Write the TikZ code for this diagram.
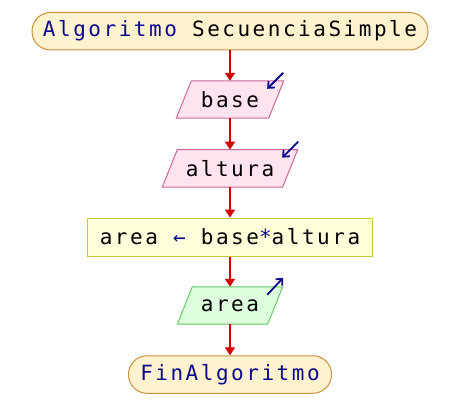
\documentclass[tikz,border=0pt]{standalone}
\usepackage{fontspec}
\newfontfamily\codefont[LetterSpace=12]{DejaVu Sans Mono}
\usetikzlibrary{arrows.meta,backgrounds,calc}
\definecolor{termfill}{RGB}{255,242,206}
\definecolor{termdraw}{RGB}{204,145,60}
\definecolor{infill}{RGB}{255,228,240}
\definecolor{indraw}{RGB}{204,102,150}
\definecolor{asgfill}{RGB}{255,255,220}
\definecolor{asgdraw}{RGB}{200,200,60}
\definecolor{outfill}{RGB}{222,255,222}
\definecolor{outdraw}{RGB}{100,200,100}
\definecolor{kw}{RGB}{10,10,140}
\definecolor{flow}{RGB}{210,0,0}
\tikzset{
  txt/.style={font=\codefont\fontsize{21pt}{24pt}\selectfont, inner sep=0pt, text=black},
  terminal/.style={txt, draw=termdraw, fill=termfill, line width=1pt, rounded corners=18.5pt, minimum height=37.5pt},
  ionode/.style={txt, minimum height=37pt},
  assignbox/.style={txt, draw=asgdraw, fill=asgfill, line width=1pt, minimum height=38pt, minimum width=285pt},
  flowarrow/.style={draw=flow, line width=2pt, -{Triangle[width=10pt,length=8pt]}},
  cornerarrow/.style={draw=kw, line width=1.8pt, -{Straight Barb[length=5pt,width=9pt]}},
}
\begin{document}
\begin{tikzpicture}[x=1pt,y=-1pt]
\useasboundingbox (0,0) rectangle (460,412);
\node[terminal, minimum width=396pt] (start) at (230,31.2) {\textcolor{kw}{Algoritmo} SecuenciaSimple};
\node[ionode, minimum width=92pt] (base) at (230,99.5) {base};
\node[ionode, minimum width=120pt] (altura) at (230,168.3) {altura};
\node[assignbox] (calc) at (230,237) {area \textcolor{kw}{←} base\textcolor{kw}{*}altura};
\node[ionode, minimum width=90pt] (area) at (230,305.5) {area};
\node[terminal, minimum width=203pt] (stop) at (230,374.5) {\textcolor{kw}{FinAlgoritmo}};
\begin{scope}[on background layer]
  \foreach \n/\f/\d in {base/infill/indraw, altura/infill/indraw, area/outfill/outdraw}{
    \draw[fill=\f, draw=\d, line width=1pt]
      ($(\n.north west)+(7.5,0)$) -- ($(\n.north east)+(7.5,0)$) --
      ($(\n.south east)+(-7.5,0)$) -- ($(\n.south west)+(-7.5,0)$) -- cycle;
  }
\end{scope}
\draw[flowarrow] (start) -- (base);
\draw[flowarrow] (base) -- (altura);
\draw[flowarrow] (altura) -- (calc);
\draw[flowarrow] (calc) -- (area);
\draw[flowarrow] (area) -- (stop);
\draw[cornerarrow] ($(base.north east)+(7,-8)$) -- ++(-16,16);
\draw[cornerarrow] ($(altura.north east)+(8,-8)$) -- ++(-16,16);
\draw[cornerarrow] ($(area.north east)+(-8,8)$) -- ++(16,-17);
\end{tikzpicture}
\end{document}
